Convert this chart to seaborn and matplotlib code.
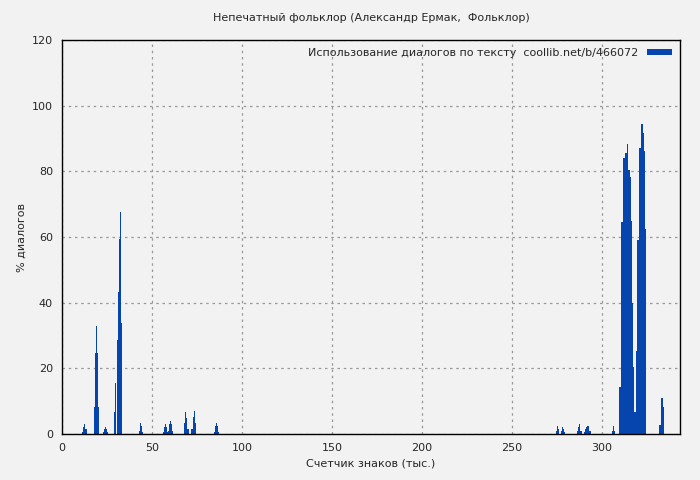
import matplotlib
matplotlib.use("Agg")
import matplotlib.pyplot as plt
import seaborn as sns

# bar positions (thousands of chars) and % dialogue
x_left = [11.5, 12.1, 12.7, 13.3,
          18.1, 18.7, 19.1, 19.6, 20.3,
          23.2, 23.8, 24.3, 24.8, 25.3,
          29.2, 29.9, 30.7, 31.4, 32.0, 32.5, 33.0,
          42.8, 43.4, 44.0, 44.5,
          56.2, 56.8, 57.3, 57.9, 58.4, 59.0, 59.5, 60.1, 60.6, 61.2,
          68.3, 68.8, 69.4, 70.0,
          72.2, 72.8, 73.4, 74.0,
          85.0, 85.5, 86.0, 86.5, 87.0]
y_left = [0.5, 2, 3, 1.5,
          8.2, 24.6, 33, 24.6, 8.2,
          0.5, 1.5, 2, 1.5, 0.5,
          6.7, 15.6, 28.6, 43.3, 59.4, 67.6, 33.8,
          1, 3.4, 2.4, 0.5,
          0.5, 2, 3, 2, 0.5, 1, 3, 4, 3, 1,
          3.3, 6.7, 4.9, 1.5,
          1.5, 5.2, 7, 3.3,
          0.5, 2.4, 3.3, 2.4, 0.5]
x_right = [274.7, 275.3, 275.9,
           277.6, 278.2, 278.8, 279.4,
           286.5, 287.1, 287.7, 288.3,
           290.4, 291.0, 291.5, 292.1, 292.7, 293.3,
           305.6, 306.2, 306.8,
           310.0, 310.6, 311.1, 311.7, 312.2, 312.8, 313.3, 313.9,
           314.4, 315.0, 315.6, 316.1, 316.7, 317.2, 317.8, 318.3,
           319.4, 320.0, 320.6, 321.1, 321.7, 322.2, 322.8, 323.3, 323.9, 324.4,
           332.2, 332.8, 333.3, 333.9, 334.4]
y_right = [1, 2.5, 1.5,
           1, 2, 1.5, 0.5,
           1, 2, 3, 1,
           0.5, 1.5, 2, 2.5, 2.5, 1,
           1, 2.5, 1,
           14.4, 43.6, 64.6, 77.4, 84, 84.7, 85.6, 87.4,
           88.3, 80.4, 78.3, 64.9, 39.9, 20.4, 6.7, 6.7,
           25.3, 59, 76, 87, 92, 94.4, 91.7, 86.2, 62.4, 20.7,
           2.7, 8.2, 11, 8.2, 2.7]
xs = x_left + x_right
ys = y_left + y_right

sns.set_style("white")
plt.rcParams['font.family'] = ['DejaVu Sans']
bg = '#f2f2f2'
fig = plt.figure(figsize=(7, 4.8), dpi=100, facecolor=bg)
ax = fig.add_axes([0.0886, 0.0958, 0.8828, 0.8209], facecolor=bg)

ax.bar(xs, ys, width=0.6, color='#0645ad', linewidth=0,
       label='Использование диалогов по тексту  coollib.net/b/466072')

ax.set_xlim(0, 343.3)
ax.set_ylim(0, 120)
ax.set_xticks([0, 50, 100, 150, 200, 250, 300])
ax.set_yticks([0, 20, 40, 60, 80, 100, 120])
ax.grid(True, color='#999999', linestyle=(0, (2, 3)), linewidth=0.9)
ax.set_axisbelow(True)
for s in ax.spines.values():
    s.set_color('black')
    s.set_linewidth(1)
ax.tick_params(direction='inout', length=6, labelsize=8, width=1)

ax.set_title('Непечатный фольклор (Александр Ермак,  Фольклор)', fontsize=8, pad=14)
ax.set_xlabel('Счетчик знаков (тыс.)', fontsize=8)
ax.set_ylabel('% диалогов', fontsize=8)
leg = ax.legend(loc='upper right', frameon=False, fontsize=8, markerfirst=False,
                handlelength=2.3, handleheight=0.5, borderaxespad=0.3)

plt.savefig('out.png', dpi=100, facecolor=bg)
